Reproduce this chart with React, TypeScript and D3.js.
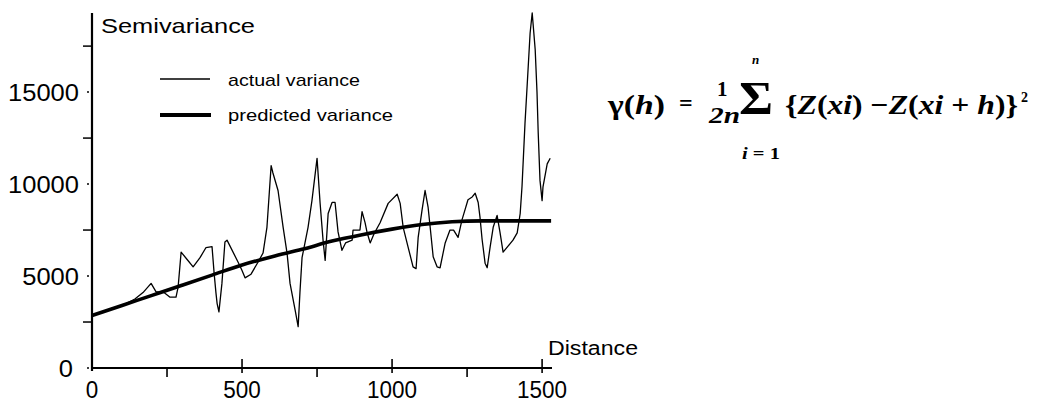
import React from "react";
import * as d3 from "d3";

const actualDistance = [0, 50, 100, 143, 170, 197, 213, 240, 260, 280, 287, 297, 317, 337, 360, 380, 400, 407, 413, 417, 423, 433, 443, 450, 487, 500, 510, 530, 553, 570, 583, 597, 603, 620, 637, 650, 660, 677, 687, 693, 700, 720, 733, 750, 760, 770, 777, 787, 800, 810, 820, 833, 845, 867, 870, 893, 900, 910, 917, 927, 940, 960, 987, 1017, 1027, 1037, 1053, 1070, 1080, 1087, 1100, 1110, 1120, 1127, 1137, 1150, 1160, 1177, 1193, 1205, 1220, 1233, 1243, 1253, 1267, 1277, 1287, 1293, 1300, 1310, 1317, 1327, 1337, 1350, 1360, 1370, 1403, 1417, 1427, 1433, 1443, 1450, 1460, 1467, 1477, 1483, 1487, 1493, 1500, 1503, 1517, 1527];
const actualVariance = [2850, 3150, 3400, 3750, 4100, 4600, 4150, 4100, 3850, 3850, 4400, 6300, 5900, 5500, 6000, 6550, 6600, 5150, 4100, 3500, 3050, 4600, 6850, 6950, 5750, 5300, 4900, 5100, 5750, 6250, 7650, 11000, 10600, 9650, 7650, 6250, 4600, 3150, 2250, 4100, 6000, 7650, 9100, 11400, 9000, 6950, 5850, 8400, 9000, 9000, 7400, 6400, 6800, 6950, 7500, 7500, 8500, 7900, 7350, 6800, 7300, 7900, 8950, 9450, 8950, 7650, 6600, 5500, 5400, 7100, 8600, 9650, 8750, 7650, 6050, 5500, 5450, 6800, 7500, 7500, 7100, 8050, 8600, 9150, 9300, 9500, 9000, 8200, 7000, 5700, 5450, 6600, 7650, 8300, 7350, 6300, 6950, 7350, 8400, 9850, 13300, 15300, 18200, 19300, 17300, 15000, 12800, 10200, 9100, 9850, 11100, 11400];

const predictedDistance = [0, 100, 200, 300, 400, 500, 600, 700, 800, 900, 1000, 1100, 1200, 1300, 1400, 1530];
const predictedVariance = [2850, 3400, 3950, 4500, 5050, 5600, 6050, 6450, 6900, 7250, 7550, 7800, 7950, 8000, 8000, 8000];

const yMajorTicks = [0, 5000, 10000, 15000];
const yMinorTicks = [2500, 7500, 12500, 17500];
const xMajorTicks = [0, 500, 1000, 1500];
const xMinorTicks = [250, 750, 1250];

const legendLabels = ["actual variance", "predicted variance"];

export default function App() {
  const x = d3.scaleLinear().domain([0, 1533]).range([92, 552]);
  const y = d3.scaleLinear().domain([0, 19300]).range([368, 13]);

  const actualLine = d3
    .line<number>()
    .x((_, i) => x(actualDistance[i]))
    .y((d) => y(d));
  const predLine = d3
    .line<number>()
    .x((_, i) => x(predictedDistance[i]))
    .y((d) => y(d))
    .curve(d3.curveMonotoneX);

  const sans = "Liberation Sans, Arial, sans-serif";
  const narrow = "'Liberation Sans Narrow', 'Arial Narrow', 'Liberation Sans', sans-serif";
  const serif = "'Liberation Serif', 'Times New Roman', serif";

  return (
    <svg
      width={1045}
      height={403}
      style={{ position: "absolute", left: 0, top: 0, background: "#fff" }}
    >
      <rect x={0} y={0} width={1045} height={403} fill="#fff" />
      {/* axes */}
      <line x1={x(0)} x2={x(0)} y1={y(19300)} y2={y(0) + 3} stroke="#000" strokeWidth={2.2} />
      <line x1={x(0)} x2={x(1533)} y1={y(0)} y2={y(0)} stroke="#000" strokeWidth={2} />

      {yMajorTicks.map((t) => (
        <g key={"ym" + t}>
          <circle cx={x(0) - 4} cy={y(t)} r={1} fill="#000" />
          <text
            x={t === 0 ? 73 : 79}
            y={y(t)}
            dy="0.36em"
            textAnchor="end"
            fontFamily={sans}
            fontSize={24}
            fill="#000"
            textLength={String(t).length * 14.2}
            lengthAdjust="spacingAndGlyphs"
          >
            {t}
          </text>
        </g>
      ))}
      {yMinorTicks.map((t) => (
        <line key={"yn" + t} x1={x(0) - 9} x2={x(0)} y1={y(t)} y2={y(t)} stroke="#000" strokeWidth={1.5} />
      ))}
      {xMajorTicks.map((t) => (
        <g key={"xm" + t}>
          {t > 0 && (
            <line x1={x(t)} x2={x(t)} y1={y(0) - 9} y2={y(0) + 5} stroke="#000" strokeWidth={1.6} />
          )}
          <text
            x={x(t)}
            y={398}
            textAnchor="middle"
            fontFamily={sans}
            fontSize={24}
            fill="#000"
            textLength={String(t).length * 12.5}
            lengthAdjust="spacingAndGlyphs"
          >
            {t}
          </text>
        </g>
      ))}
      {xMinorTicks.map((t) => (
        <line key={"xn" + t} x1={x(t)} x2={x(t)} y1={y(0)} y2={y(0) + 9} stroke="#000" strokeWidth={1.6} />
      ))}

      {/* axis titles */}
      <text x={101} y={33} fontFamily={sans} fontSize={21} fill="#000" textLength={154} lengthAdjust="spacingAndGlyphs">
        Semivariance
      </text>
      <text x={548} y={355} fontFamily={sans} fontSize={20} fill="#000" textLength={90} lengthAdjust="spacingAndGlyphs">
        Distance
      </text>

      {/* data */}
      <path d={predLine(predictedVariance) || ""} fill="none" stroke="#000" strokeWidth={3.6} />
      <path d={actualLine(actualVariance) || ""} fill="none" stroke="#000" strokeWidth={1.3} strokeLinejoin="round" />

      {/* legend */}
      <line x1={160} x2={210} y1={79} y2={79} stroke="#000" strokeWidth={1.3} />
      <text x={228} y={86} fontFamily={narrow} fontSize={17} fill="#000" textLength={132} lengthAdjust="spacingAndGlyphs">
        {legendLabels[0]}
      </text>
      <line x1={160} x2={211} y1={115} y2={115} stroke="#000" strokeWidth={4} />
      <text x={228} y={121} fontFamily={narrow} fontSize={17} fill="#000" textLength={165} lengthAdjust="spacingAndGlyphs">
        {legendLabels[1]}
      </text>

      {/* formula */}
      <g fontFamily={serif} fontWeight="bold" fill="#000">
        <text x={608} y={114} fontSize={28} textLength={57} lengthAdjust="spacingAndGlyphs">
          γ(<tspan fontStyle="italic">h</tspan>)
        </text>
        <text x={679} y={111} fontSize={24}>=</text>
        <text x={717} y={96} fontSize={21}>1</text>
        <text x={709} y={123} fontSize={24} fontStyle="italic" textLength={31} lengthAdjust="spacingAndGlyphs">2n</text>
        <text x={739} y={114} fontSize={46} textLength={34} lengthAdjust="spacingAndGlyphs">Σ</text>
        <text x={752} y={64} fontSize={13} fontStyle="italic">n</text>
        <text x={742} y={159} fontSize={16} textLength={38} lengthAdjust="spacingAndGlyphs">
          <tspan fontStyle="italic">i</tspan> = 1
        </text>
        <text x={785} y={114} fontSize={28} textLength={233} lengthAdjust="spacingAndGlyphs">
          {"{"}<tspan fontStyle="italic">Z</tspan>{"("}<tspan fontStyle="italic">xi</tspan>{") −"}<tspan fontStyle="italic">Z</tspan>{"("}<tspan fontStyle="italic">xi</tspan>{" + "}<tspan fontStyle="italic">h</tspan>{")}"}
        </text>
        <text x={1021} y={102} fontSize={14}>2</text>
      </g>
    </svg>
  );
}
